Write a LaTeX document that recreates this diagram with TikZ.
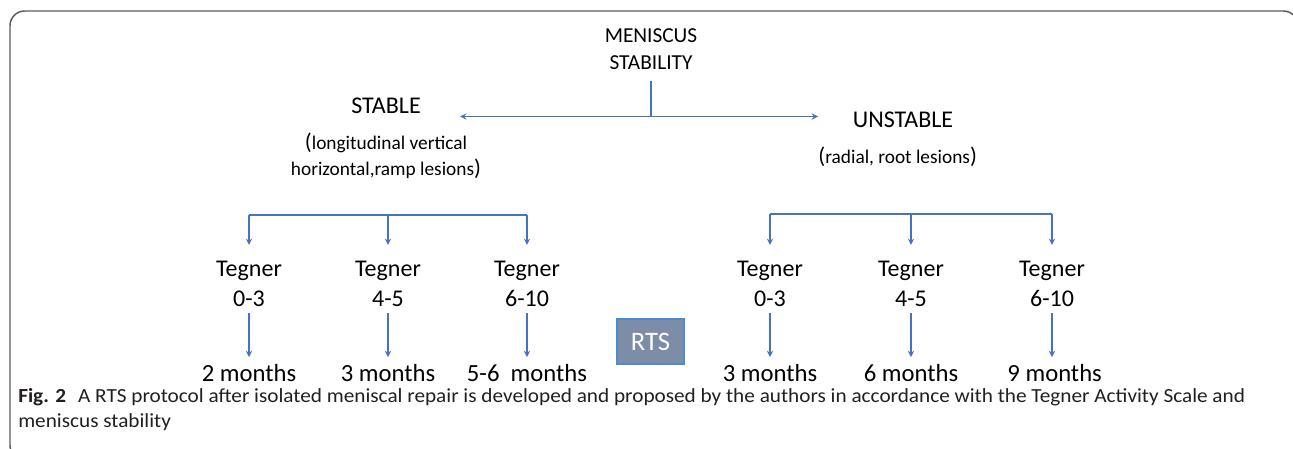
\documentclass[tikz,border=0pt]{standalone}
\usepackage{fontspec}
\setmainfont{Carlito}
\newfontfamily\capfont[FakeStretch=1.062]{Carlito}
\usetikzlibrary{positioning}

\definecolor{arrowblue}{HTML}{4472C4}
\definecolor{rtsfill}{HTML}{7D8DA8}
\definecolor{rtsline}{HTML}{4A8AD6}
\definecolor{framegray}{HTML}{5A5A5A}
\definecolor{captext}{HTML}{231F20}

\newcommand{\parbig}[1]{{\fontsize{17}{17}\selectfont #1}}

\begin{document}
\begin{tikzpicture}[x=0.75pt, y=-0.75pt,
    every node/.style={inner sep=0pt},
    link/.style={draw=arrowblue, line width=1.1pt},
    arr/.style={link, -stealth},
    head/.style={font=\fontsize{16}{20.25}\selectfont, align=center},
    big/.style={font=\fontsize{18}{22}\selectfont},
    desc/.style={font=\fontsize{14.5}{19.5}\selectfont, align=center},
    tegner/.style={font=\fontsize{18}{22.5}\selectfont, align=center},
    months/.style={font=\fontsize{18.5}{22}\selectfont},
    rts/.style={draw=rtsline, fill=rtsfill, text=white, line width=1.1pt,
        minimum width=50pt, minimum height=34pt, font=\fontsize{20}{24}\selectfont},
    caption/.style={font=\capfont\fontsize{15}{19}\selectfont, text=captext, align=left}]

        \useasboundingbox (0,0) rectangle (1293,449);
        \clip (0,0) rectangle (1293,449);

        % frame
        \draw[framegray, line width=1.1pt, rounded corners=11] (10,11) rectangle (1298,460);

        % top nodes
        \node[head] (MS) at (651,49.5) {MENISCUS\\STABILITY};
        \node[big] (stable) at (386,106) {STABLE};
        \node[desc, below=14pt of stable] (stabledesc) {\parbig{(}longitudinal vertical\\horizontal,ramp lesions\parbig{)}};
        \node[big] (unstable) at (903,119.5) {UNSTABLE};
        \node[desc, below=14pt of unstable, xshift=-4pt] (unstabledesc) {\parbig{(}radial, root lesions\parbig{)}};

        % split arrows
        \coordinate (hub) at (651,116.5);
        \coordinate (tipL) at (460,116.5);
        \coordinate (tipR) at (818,116.5);
        \draw[link] ([yshift=-8pt]MS.south) -- (hub);
        \draw[arr] (hub) -- (tipL);
        \draw[arr] (hub) -- (tipR);

        % tegner nodes
        \node[tegner] (T03s) at (249,284) {Tegner\\0-3};
        \node[tegner] (T45s) at (388,284) {Tegner\\4-5};
        \node[tegner] (T610s) at (527,284) {Tegner\\6-10};
        \node[tegner] (T03u) at (770,284) {Tegner\\0-3};
        \node[tegner] (T45u) at (911,284) {Tegner\\4-5};
        \node[tegner] (T610u) at (1052,284) {Tegner\\6-10};

        % month nodes
        \node[months, below=42.5pt of T03s] (M2s) {2 months};
        \node[months, below=42.5pt of T45s] (M3s) {3 months};
        \node[months, below=42.5pt of T610s] (M56s) {5-6\ \ months};
        \node[months, below=42.5pt of T03u] (M3u) {3 months};
        \node[months, below=42.5pt of T45u] (M6u) {6 months};
        \node[months, below=42.5pt of T610u, xshift=2pt] (M9u) {9 months};

        \node[rts] (RTS) at (650.5,341.5) {RTS};

        % brackets
        \coordinate (brS) at (388,215);
        \coordinate (brU) at (911,214);
        \draw[link] (T03s.north |- brS) -- (T610s.north |- brS);
        \draw[link] (T03u.north |- brU) -- (T610u.north |- brU);
        \foreach \t in {T03s, T45s, T610s}
            \draw[arr] (\t.north |- brS) -- ([yshift=12pt]\t.north);
        \foreach \t in {T03u, T45u, T610u}
            \draw[arr] (\t.north |- brU) -- ([yshift=12pt]\t.north);

        % tegner to months
        \draw[arr] ([yshift=-4.5pt]T03s.south) -- ([yshift=5pt]M2s.north);
        \draw[arr] ([yshift=-4.5pt]T45s.south) -- ([yshift=5pt]M3s.north);
        \draw[arr] ([yshift=-4.5pt]T610s.south) -- ([yshift=5pt]M56s.north);
        \draw[arr] ([yshift=-4.5pt]T03u.south) -- ([yshift=5pt]M3u.north);
        \draw[arr] ([yshift=-4.5pt]T45u.south) -- ([yshift=5pt]M6u.north);
        \draw[arr] ([yshift=-4.5pt]T610u.south) -- ([yshift=5pt, xshift=-2pt]M9u.north);

        % caption
        \node[caption, anchor=north west] (cap) at (18,388) {\textbf{Fig. 2}\hspace{0.6em}A RTS protocol after isolated meniscal repair is developed and proposed by the authors in accordance with the Tegner Activity Scale and\\meniscus stability};
\end{tikzpicture}
\end{document}
